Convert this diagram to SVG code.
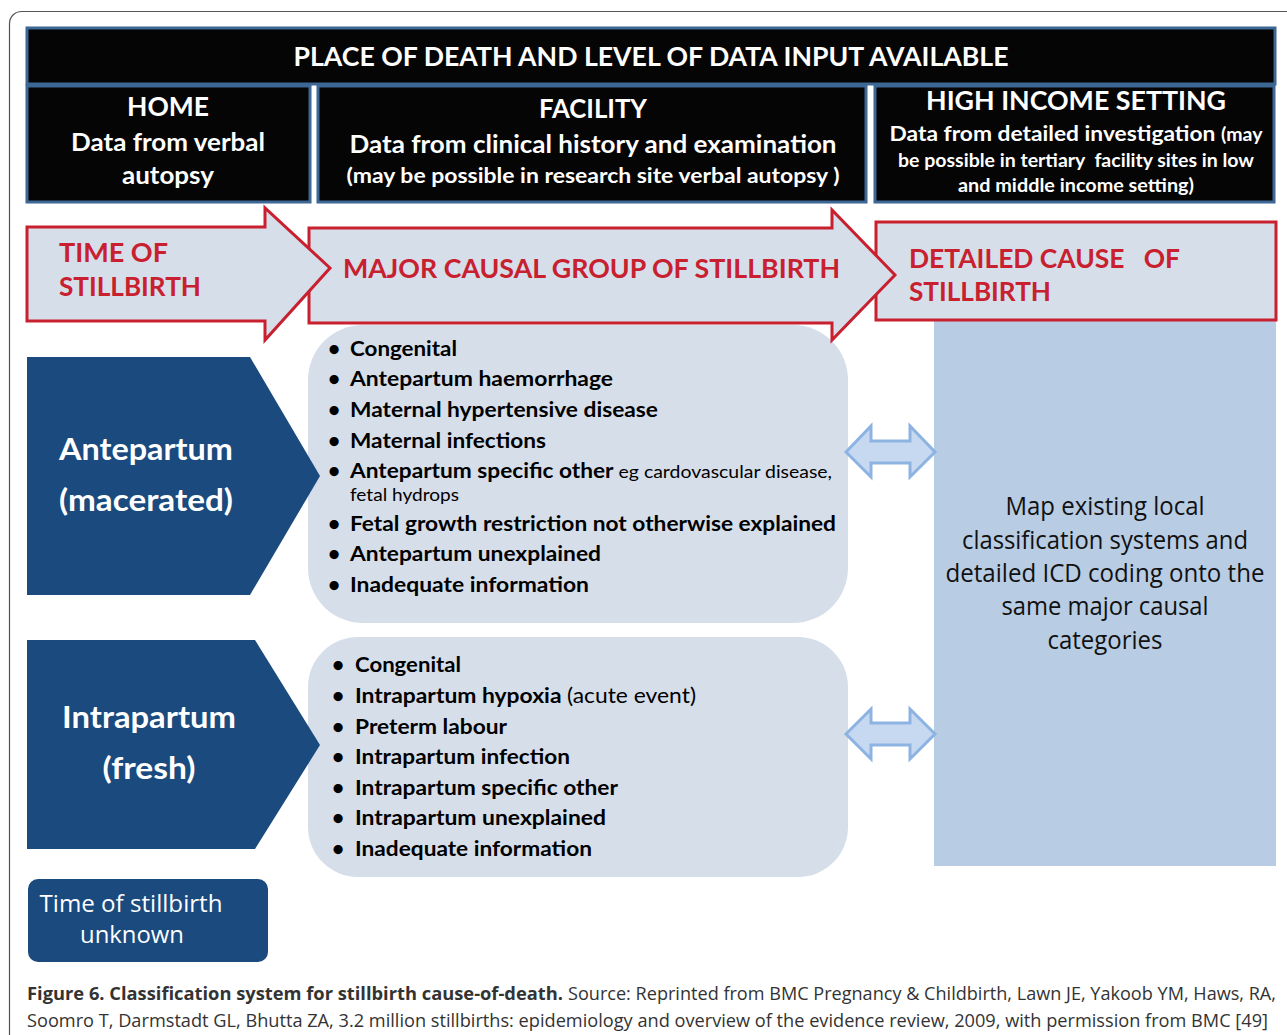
<svg xmlns="http://www.w3.org/2000/svg" width="1287" height="1035" viewBox="0 0 1287 1035">
<style>
.hdr{fill:#050505;stroke:#3d6794;stroke-width:3}
.w{fill:#fff;font-family:Lato,"Open Sans",sans-serif;font-weight:bold}
.red{fill:#c8202f;font-family:Lato,"Open Sans",sans-serif;font-weight:bold;font-size:27px}
.redshape{fill:#d6deea;stroke:#c8202f;stroke-width:3}
.dark{fill:#1a4a7e}
.light{fill:#d6deea}
.li{font-family:Lato,"Open Sans",sans-serif;font-weight:bold;font-size:21px;fill:#000}
.sm{font-weight:normal;font-size:18px}
.dbl{fill:#c6d9f0;stroke:#8db3e2;stroke-width:3}
.cap{font-family:"Open Sans","Noto Sans",sans-serif;font-size:18px;fill:#333}
</style>
<rect x="9.5" y="11.5" width="1295" height="1050" rx="12" fill="none" stroke="#555" stroke-width="1.2"/>

<g id="header">
<rect class="hdr" x="27" y="28" width="1248" height="56"/>
<text class="w" x="651" y="66" font-size="26" text-anchor="middle" textLength="715" lengthAdjust="spacingAndGlyphs">PLACE OF DEATH AND LEVEL OF DATA INPUT AVAILABLE</text>
</g>
<g id="home">
<rect class="hdr" x="27" y="86" width="283" height="116"/>
<text class="w" x="168" y="116" font-size="27" text-anchor="middle" textLength="82" lengthAdjust="spacingAndGlyphs">HOME</text>
<text class="w" x="168" y="151" font-size="24" text-anchor="middle" textLength="194" lengthAdjust="spacingAndGlyphs">Data from verbal</text>
<text class="w" x="168" y="184" font-size="24" text-anchor="middle" textLength="92" lengthAdjust="spacingAndGlyphs">autopsy</text>
</g>
<g id="facility">
<rect class="hdr" x="318" y="86" width="548" height="116"/>
<text class="w" x="593" y="118" font-size="27" text-anchor="middle" textLength="108" lengthAdjust="spacingAndGlyphs">FACILITY</text>
<text class="w" x="593" y="153" font-size="24" text-anchor="middle" textLength="487" lengthAdjust="spacingAndGlyphs">Data from clinical history and examination</text>
<text class="w" x="593" y="183" font-size="21" text-anchor="middle" textLength="493" lengthAdjust="spacingAndGlyphs">(may be possible in research site verbal autopsy )</text>
</g>
<g id="high-income">
<rect class="hdr" x="875" y="86" width="399" height="116"/>
<text class="w" x="1076" y="110" font-size="27" text-anchor="middle" textLength="300" lengthAdjust="spacingAndGlyphs">HIGH INCOME SETTING</text>
<text class="w" x="1076" y="141" font-size="21" text-anchor="middle" textLength="373" lengthAdjust="spacingAndGlyphs">Data from detailed investigation <tspan font-size="18">(may</tspan></text>
<text class="w" x="1076" y="167" font-size="18" text-anchor="middle" textLength="356" lengthAdjust="spacingAndGlyphs" xml:space="preserve">be possible in tertiary  facility sites in low</text>
<text class="w" x="1076" y="192" font-size="18" text-anchor="middle" textLength="236" lengthAdjust="spacingAndGlyphs">and middle income setting)</text>
</g>

<g id="right-panel">
<rect x="934" y="320" width="342" height="546" fill="#b8cce4"/>
<g font-family="'Open Sans','Noto Sans',sans-serif" font-size="25" fill="#111" text-anchor="middle">
<text x="1105" y="515" textLength="199" lengthAdjust="spacingAndGlyphs">Map existing local</text>
<text x="1105" y="549" textLength="286" lengthAdjust="spacingAndGlyphs">classification systems and</text>
<text x="1105" y="582" textLength="319" lengthAdjust="spacingAndGlyphs">detailed ICD coding onto the</text>
<text x="1105" y="615" textLength="207" lengthAdjust="spacingAndGlyphs">same major causal</text>
<text x="1105" y="649" textLength="115" lengthAdjust="spacingAndGlyphs">categories</text>
</g>
</g>

<g id="antepartum-list">
<rect class="light" x="308" y="325" width="540" height="298" rx="55"/>
<g class="li">
<text x="328" y="356">•</text><text x="350" y="356" textLength="107" lengthAdjust="spacingAndGlyphs">Congenital</text>
<text x="328" y="386">•</text><text x="350" y="386" textLength="263" lengthAdjust="spacingAndGlyphs">Antepartum haemorrhage</text>
<text x="328" y="417">•</text><text x="350" y="417" textLength="308" lengthAdjust="spacingAndGlyphs">Maternal hypertensive disease</text>
<text x="328" y="448">•</text><text x="350" y="448" textLength="196" lengthAdjust="spacingAndGlyphs">Maternal infections</text>
<text x="328" y="478">•</text><text x="350" y="478" textLength="482" lengthAdjust="spacingAndGlyphs">Antepartum specific other <tspan class="sm">eg cardovascular disease,</tspan></text>
<text x="350" y="501" class="sm" textLength="109" lengthAdjust="spacingAndGlyphs">fetal hydrops</text>
<text x="328" y="531">•</text><text x="350" y="531" textLength="486" lengthAdjust="spacingAndGlyphs">Fetal growth restriction not otherwise explained</text>
<text x="328" y="561">•</text><text x="350" y="561" textLength="251" lengthAdjust="spacingAndGlyphs">Antepartum unexplained</text>
<text x="328" y="592">•</text><text x="350" y="592" textLength="239" lengthAdjust="spacingAndGlyphs">Inadequate information</text>
</g>
</g>

<g id="intrapartum-list">
<rect class="light" x="308" y="637" width="540" height="240" rx="50"/>
<g class="li">
<text x="332" y="672">•</text><text x="355" y="672" textLength="106" lengthAdjust="spacingAndGlyphs">Congenital</text>
<text x="332" y="703">•</text><text x="355" y="703" textLength="341" lengthAdjust="spacingAndGlyphs">Intrapartum hypoxia <tspan font-weight="normal">(acute event)</tspan></text>
<text x="332" y="734">•</text><text x="355" y="734" textLength="152" lengthAdjust="spacingAndGlyphs">Preterm labour</text>
<text x="332" y="764">•</text><text x="355" y="764" textLength="215" lengthAdjust="spacingAndGlyphs">Intrapartum infection</text>
<text x="332" y="795">•</text><text x="355" y="795" textLength="263" lengthAdjust="spacingAndGlyphs">Intrapartum specific other</text>
<text x="332" y="825">•</text><text x="355" y="825" textLength="251" lengthAdjust="spacingAndGlyphs">Intrapartum unexplained</text>
<text x="332" y="856">•</text><text x="355" y="856" textLength="237" lengthAdjust="spacingAndGlyphs">Inadequate information</text>
</g>
</g>

<g id="detailed-cause">
<rect class="redshape" x="876" y="222" width="400" height="98"/>
<text class="red" x="909" y="268" textLength="271" lengthAdjust="spacingAndGlyphs" xml:space="preserve">DETAILED CAUSE   OF</text>
<text class="red" x="909" y="301" textLength="142" lengthAdjust="spacingAndGlyphs">STILLBIRTH</text>
</g>
<g id="major-causal-group">
<polygon class="redshape" points="309,228 832,228 832,210 895,275 832,340 832,323 309,323"/>
<text class="red" x="343" y="278" textLength="497" lengthAdjust="spacingAndGlyphs">MAJOR CAUSAL GROUP OF STILLBIRTH</text>
</g>
<g id="time-of-stillbirth">
<polygon class="redshape" points="27,227 265,227 265,208 330,268 265,340 265,321 27,321"/>
<text class="red" x="59" y="262" textLength="109" lengthAdjust="spacingAndGlyphs">TIME OF</text>
<text class="red" x="59" y="296" textLength="142" lengthAdjust="spacingAndGlyphs">STILLBIRTH</text>
</g>

<g id="antepartum">
<polygon class="dark" points="27,357 250,357 320,476 250,595 27,595"/>
<text class="w" x="146" y="460" font-size="31" text-anchor="middle" textLength="174" lengthAdjust="spacingAndGlyphs">Antepartum</text>
<text class="w" x="146" y="511" font-size="31" text-anchor="middle" textLength="174" lengthAdjust="spacingAndGlyphs">(macerated)</text>
</g>
<g id="intrapartum">
<polygon class="dark" points="27,640 255,640 320,745 255,849 27,849"/>
<text class="w" x="149" y="728" font-size="31" text-anchor="middle" textLength="174" lengthAdjust="spacingAndGlyphs">Intrapartum</text>
<text class="w" x="149" y="779" font-size="31" text-anchor="middle" textLength="93" lengthAdjust="spacingAndGlyphs">(fresh)</text>
</g>
<g id="unknown">
<rect class="dark" x="28" y="879" width="240" height="83" rx="10"/>
<g font-family="'Open Sans','Noto Sans',sans-serif" font-size="24" fill="#fff" text-anchor="middle">
<text x="131" y="912" textLength="183" lengthAdjust="spacingAndGlyphs">Time of stillbirth</text>
<text x="132" y="943" textLength="104" lengthAdjust="spacingAndGlyphs">unknown</text>
</g>
</g>

<g id="connectors">
<polygon class="dbl" points="846,452 871,426 871,441 910,441 910,426 935,452 910,477 910,463 871,463 871,477"/>
<polygon class="dbl" points="846,734 871,709 871,723 910,723 910,709 935,734 910,759 910,745 871,745 871,759"/>
</g>

<g id="caption">
<text class="cap" x="27" y="1000" font-weight="bold" fill="#222" textLength="536" lengthAdjust="spacingAndGlyphs">Figure 6. Classification system for stillbirth cause-of-death.</text>
<text class="cap" x="568" y="1000" textLength="708" lengthAdjust="spacingAndGlyphs">Source: Reprinted from BMC Pregnancy &amp; Childbirth, Lawn JE, Yakoob YM, Haws, RA,</text>
<text class="cap" x="27" y="1027" textLength="1241" lengthAdjust="spacingAndGlyphs">Soomro T, Darmstadt GL, Bhutta ZA, 3.2 million stillbirths: epidemiology and overview of the evidence review, 2009, with permission from BMC [49]</text>
</g>
</svg>
